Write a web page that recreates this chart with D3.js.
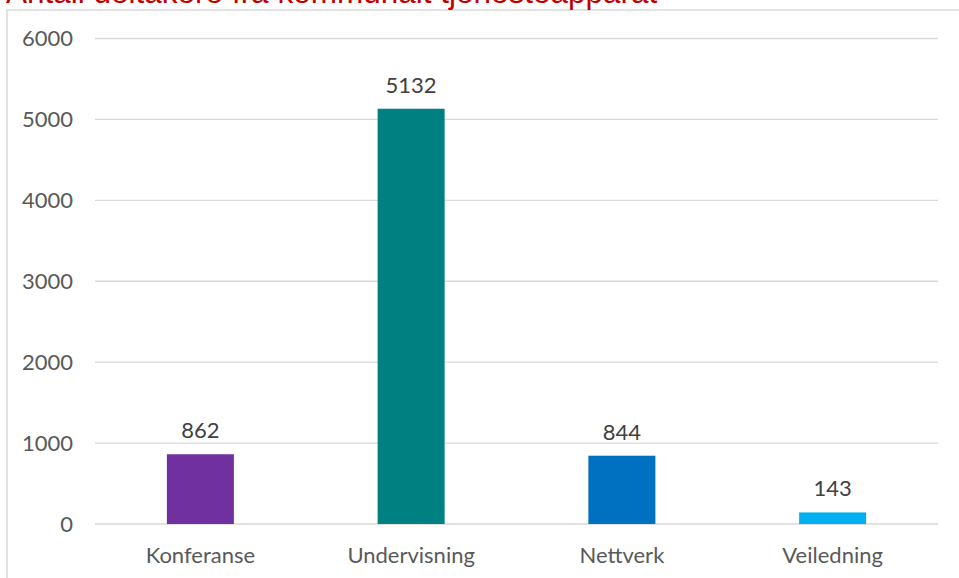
<!DOCTYPE html>
<html><head><meta charset="utf-8">
<script src="https://cdn.jsdelivr.net/npm/d3@7"></script>
<style>body{margin:0;background:#fff}svg{display:block}</style>
</head><body>
<svg id="c" width="959" height="578"></svg>
<script>
const title = "Antall deltakere fra kommunalt tjenesteapparat";
const categories = ["Konferanse", "Undervisning", "Nettverk", "Veiledning"];
const values = [862, 5132, 844, 143];
const colors = ["#7030A0", "#008080", "#0070C0", "#00B0F0"];
const yTicks = [0, 1000, 2000, 3000, 4000, 5000, 6000];

const svg = d3.select("#c");
const font = "Lato, 'Open Sans', sans-serif";

// frame
svg.append("rect").attr("x", 7).attr("y", 10).attr("width", 1000).attr("height", 600)
  .attr("fill", "none").attr("stroke", "#d9d9d9").attr("stroke-width", 1.5);

// title (cut off at the top, as in the reference)
svg.append("text").attr("x", 6).attr("y", 3).text(title)
  .attr("font-family", "'Liberation Sans', Arial, sans-serif").attr("font-size", 31.5)
  .attr("fill", "#C00000");

const x = d3.scaleBand().domain(categories).range([95, 938]).padding(0);
const y = d3.scaleLinear().domain([0, 6000]).range([524, 38.5]);

// gridlines
svg.append("g").selectAll("line").data(yTicks).join("line")
  .attr("x1", 95).attr("x2", 938)
  .attr("y1", d => y(d)).attr("y2", d => y(d))
  .attr("stroke", "#d9d9d9").attr("stroke-width", 1.3);

// y axis labels
const yAxis = d3.axisLeft(y).tickValues(yTicks).tickSize(0).tickPadding(0).tickFormat(d3.format("d"));
const ya = svg.append("g").attr("transform", "translate(73,0)").call(yAxis);
ya.select(".domain").remove();
ya.selectAll("text").attr("font-family", font).attr("font-size", 22).attr("fill", "#595959");

// bars
const bw = x.bandwidth() * 0.318;
svg.append("g").selectAll("rect").data(values).join("rect")
  .attr("x", (d, i) => x(categories[i]) + x.bandwidth() / 2 - bw / 2)
  .attr("width", bw)
  .attr("y", d => y(d))
  .attr("height", d => y(0) - y(d))
  .attr("fill", (d, i) => colors[i]);

// value labels
svg.append("g").selectAll("text").data(values).join("text")
  .attr("x", (d, i) => x(categories[i]) + x.bandwidth() / 2)
  .attr("y", d => y(d) - 16)
  .attr("text-anchor", "middle")
  .attr("font-family", font).attr("font-size", 22).attr("fill", "#404040")
  .text(d => d);

// x axis labels
const xAxis = d3.axisBottom(x).tickSize(0).tickPadding(0);
const xa = svg.append("g").attr("transform", "translate(0,524)").call(xAxis);
xa.select(".domain").remove();
xa.selectAll("text").attr("font-family", font).attr("font-size", 22).attr("fill", "#595959")
  .attr("dy", null).attr("y", 39);
</script>
</body></html>
